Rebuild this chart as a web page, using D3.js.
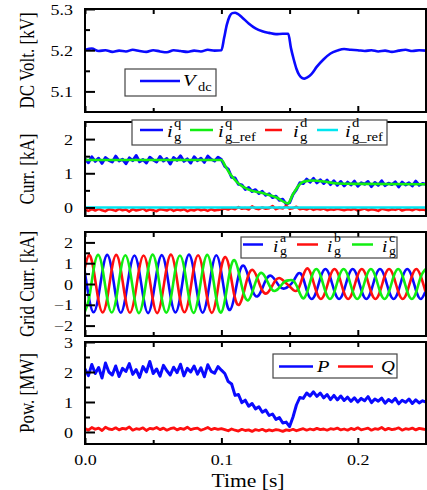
<!DOCTYPE html>
<html>
<head>
<meta charset="utf-8">
<script src="https://cdn.jsdelivr.net/npm/d3@7"></script>
<style>
body { margin: 0; background: #fff; }
svg { display: block; }
text { font-family: "Liberation Serif", "Times New Roman", serif; fill: #000; }
</style>
</head>
<body>
<script>
// ---- data ----
// DC voltage [kV]
var vdcT = [0,0.005,0.01,0.015,0.02,0.025,0.03,0.035,0.04,0.045,0.05,0.055,0.06,0.065,0.07,0.075,0.08,0.085,0.09,0.095,0.1,
  0.102,0.104,0.106,0.108,0.11,0.112,0.115,0.12,0.125,0.13,0.135,0.14,0.145,0.149,0.151,0.153,0.155,0.157,0.159,0.161,0.163,0.166,0.17,0.175,0.18,0.185,0.19,0.195,
  0.2,0.205,0.21,0.215,0.22,0.225,0.23,0.235,0.24,0.245,0.25];
var vdc = [5.201,5.204,5.198,5.2,5.196,5.199,5.197,5.201,5.198,5.196,5.2,5.197,5.195,5.2,5.198,5.196,5.199,5.197,5.201,5.199,5.2,
  5.23,5.262,5.282,5.29,5.291,5.288,5.28,5.265,5.253,5.246,5.242,5.239,5.24,5.24,5.205,5.178,5.155,5.14,5.133,5.131,5.134,5.142,5.16,5.178,5.192,5.199,5.203,5.201,
  5.2,5.198,5.2,5.197,5.199,5.196,5.199,5.201,5.198,5.2,5.199];

// sampled time base for the measured (noisy) signals, 2.5 ms step
var tMeas = d3.range(101).map(function(i) { return i * 0.0025; });

// d-q currents [kA]
var iqMeas = [1.42,1.31,1.48,1.35,1.44,1.29,1.46,1.38,1.33,1.5,1.36,1.41,1.28,1.45,1.37,1.52,1.34,1.4,1.3,1.47,1.39,1.33,1.49,1.36,1.43,1.27,1.46,1.38,1.51,1.35,1.42,1.3,1.48,1.37,1.44,1.32,1.5,1.41,1.36,1.47,1.4,
  1.2,1.12,0.88,0.86,0.68,0.66,0.53,0.58,0.47,0.52,0.41,0.47,0.36,0.4,0.29,0.33,0.21,0.24,0.1,0.14,0.38,0.52,0.72,0.7,0.83,0.74,0.85,0.72,0.81,0.7,0.8,0.67,0.78,0.65,0.76,
  0.63,0.74,0.66,0.77,0.62,0.72,0.68,0.76,0.61,0.73,0.65,0.78,0.64,0.71,0.67,0.75,0.6,0.74,0.66,0.72,0.63,0.77,0.65,0.7,0.68];
var iqRefT = [0,0.1,0.103,0.106,0.109,0.112,0.116,0.12,0.13,0.14,0.149,0.152,0.155,0.158,0.162,0.167,0.175,0.185,0.2,0.25];
var iqRef = [1.39,1.39,1.2,1.0,0.85,0.72,0.6,0.52,0.42,0.3,0.12,0.35,0.55,0.7,0.77,0.79,0.76,0.7,0.69,0.68];
var idMeas = [-0.06,-0.1,-0.05,-0.09,-0.04,-0.08,-0.11,-0.05,-0.07,-0.1,-0.04,-0.08,-0.06,-0.12,-0.05,-0.09,-0.07,-0.03,-0.1,-0.06,-0.08,-0.11,-0.05,-0.07,-0.09,-0.04,-0.1,-0.06,-0.08,-0.05,-0.11,-0.07,-0.09,-0.04,-0.08,-0.06,-0.1,-0.05,-0.09,-0.07,-0.06,
  -0.03,-0.06,-0.02,-0.05,0.01,-0.04,-0.02,-0.06,0.03,-0.03,-0.05,0.0,-0.04,-0.02,0.04,-0.05,-0.01,-0.03,0.05,-0.04,-0.02,0.02,-0.05,-0.03,-0.06,-0.02,-0.07,-0.04,-0.06,-0.03,-0.08,-0.05,-0.07,-0.04,-0.06,
  -0.08,-0.05,-0.07,-0.04,-0.09,-0.06,-0.03,-0.08,-0.05,-0.07,-0.1,-0.04,-0.06,-0.08,-0.05,-0.07,-0.03,-0.09,-0.06,-0.05,-0.08,-0.04,-0.07,-0.06,-0.08];
var idRefT = [0, 0.25];
var idRef = [0, 0];

// grid phase currents [kA], sampled every 60 deg of the 50 Hz wave
var tPhase = d3.range(76).map(function(k) { return -0.0004 + k / 300; });
var iga = [0.7,-0.68,-1.36,-0.7,0.68,1.4, 0.69,-0.7,-1.38,-0.67,0.7,1.37, 0.68,-0.69,-1.4,-0.68,0.69,1.39, 0.7,-0.68,-1.37,-0.7,0.7,1.41, 0.69,-0.7,-1.38,-0.69,0.68,1.38,
  0.69,-0.65,-1.25,-0.58,0.5,0.88, 0.39,-0.34,-0.6,-0.27,0.23,0.4, 0.17,-0.14,-0.22,-0.09,0.15,0.5, 0.34,-0.38,-0.72,-0.36,0.36,0.72,
  0.36,-0.36,-0.72,-0.36,0.36,0.72, 0.36,-0.36,-0.72,-0.36,0.36,0.72, 0.36,-0.36,-0.72,-0.36,0.36,0.72, 0.36,-0.36,-0.72,-0.36];
var igb = [0.69,1.39,0.7,-0.68,-1.37,-0.7, 0.7,1.4,0.68,-0.7,-1.38,-0.69, 0.68,1.37,0.69,-0.69,-1.4,-0.68, 0.69,1.41,0.7,-0.7,-1.36,-0.69, 0.7,1.38,0.69,-0.68,-1.39,-0.7,
  0.69,1.3,0.63,-0.58,-1.0,-0.44, 0.39,0.68,0.3,-0.27,-0.46,-0.2, 0.17,0.28,0.11,-0.09,-0.3,-0.25, 0.34,0.75,0.36,-0.36,-0.72,-0.36,
  0.36,0.72,0.36,-0.36,-0.72,-0.36, 0.36,0.72,0.36,-0.36,-0.72,-0.36, 0.36,0.72,0.36,-0.36,-0.72,-0.36, 0.36,0.72,0.36,-0.36];
var igc = [-1.38,-0.7,0.68,1.4,0.7,-0.69, -1.37,-0.69,0.7,1.38,0.68,-0.7, -1.4,-0.68,0.69,1.41,0.69,-0.7, -1.38,-0.7,0.7,1.37,0.7,-0.68, -1.39,-0.69,0.68,1.4,0.69,-0.7,
  -1.38,-0.65,0.63,1.15,0.5,-0.44, -0.78,-0.34,0.3,0.53,0.23,-0.2, -0.33,-0.14,0.11,0.18,0.15,-0.25, -0.68,-0.38,0.36,0.72,0.36,-0.36,
  -0.72,-0.36,0.36,0.72,0.36,-0.36, -0.72,-0.36,0.36,0.72,0.36,-0.36, -0.72,-0.36,0.36,0.72,0.36,-0.36, -0.72,-0.36,0.36,0.72];

// power [MW]
var pMeas = [2.1,1.88,2.25,1.95,2.15,1.8,2.3,2.0,1.9,2.2,1.85,2.12,2.02,2.28,1.92,2.08,1.82,2.18,2.0,2.35,1.95,2.1,1.86,2.22,2.04,1.9,2.16,1.98,2.26,1.87,2.12,2.0,2.2,1.93,2.14,1.84,2.24,2.02,1.96,2.18,2.06,
  1.95,1.68,1.6,1.22,1.25,0.98,1.06,0.86,0.95,0.77,0.84,0.66,0.73,0.55,0.6,0.42,0.48,0.3,0.33,0.18,0.5,0.9,1.15,1.12,1.3,1.2,1.34,1.19,1.3,1.14,1.25,1.08,1.22,1.07,1.2,
  1.05,1.16,1.02,1.14,1.0,1.12,1.04,1.18,0.98,1.1,1.03,1.13,0.96,1.08,1.0,1.12,0.94,1.06,0.99,1.1,0.95,1.07,0.97,1.04,1.0];
var qMeas = [0.12,0.06,0.15,0.09,0.13,0.05,0.16,0.1,0.08,0.14,0.07,0.12,0.1,0.17,0.06,0.11,0.09,0.14,0.05,0.12,0.1,0.15,0.08,0.13,0.06,0.11,0.14,0.07,0.12,0.09,0.16,0.08,0.11,0.13,0.06,0.1,0.15,0.08,0.12,0.09,0.11,
  0.08,0.04,0.1,0.06,0.03,0.09,0.05,0.07,0.02,0.08,0.05,0.09,0.03,0.07,0.04,0.08,0.06,0.02,0.07,0.05,0.09,0.04,0.08,0.11,0.06,0.1,0.07,0.12,0.08,0.1,0.06,0.11,0.09,0.13,0.07,
  0.1,0.06,0.12,0.08,0.14,0.07,0.1,0.13,0.06,0.11,0.09,0.15,0.07,0.12,0.08,0.1,0.14,0.06,0.11,0.09,0.13,0.07,0.12,0.1,0.08];

var xTicks = [0, 0.1, 0.2];
var xMinor = [0.05, 0.15, 0.25];

var BLUE = "#0a0aff", RED = "#ff1010", GREEN = "#12ee12", CYAN = "#00e6f0";
var SX = 1.2; // the original lettering is a bit wide

var svg = d3.select("body").append("svg")
  .attr("width", 427)
  .attr("height", 490);

var x = d3.scaleLinear().domain([0, 0.25]).range([85, 426]);

function txt(g, s, px, py, size, italic, anchor) {
  return g.append("text")
    .attr("transform", "translate(" + px + "," + py + ") scale(" + SX + ",1)")
    .style("font-size", size + "px")
    .style("font-style", italic ? "italic" : "normal")
    .attr("text-anchor", anchor || "start")
    .text(s);
}

function panel(id, top, bottom, domain, major, minor, title, showX) {
  var y = d3.scaleLinear().domain(domain).range([bottom, top]);
  var g = svg.append("g");

  svg.append("clipPath").attr("id", id)
    .append("rect")
    .attr("x", 85).attr("y", top)
    .attr("width", 341).attr("height", bottom - top);

  var plot = g.append("g").attr("clip-path", "url(#" + id + ")");

  // y axis, inward ticks
  var ya = g.append("g").attr("transform", "translate(85,0)")
    .call(d3.axisLeft(y).tickValues(major).tickSize(-10).tickPadding(0).tickFormat(d3.format("")));
  ya.selectAll("text").attr("x", null).attr("dy", null)
    .attr("transform", "translate(-12,5) scale(" + SX + ",1)")
    .style("font-size", "15px");
  g.append("g").attr("transform", "translate(85,0)")
    .call(d3.axisLeft(y).tickValues(minor).tickSize(-5).tickFormat(""));

  // x ticks top and bottom
  g.append("g").attr("transform", "translate(0," + bottom + ")")
    .call(d3.axisBottom(x).tickValues(xTicks).tickSize(-6).tickFormat(showX ? d3.format(".1f") : ""))
    .selectAll("text").attr("y", null).attr("dy", null)
    .attr("transform", "translate(0,21) scale(" + SX + ",1)")
    .style("font-size", "15px");
  g.append("g").attr("transform", "translate(0," + bottom + ")")
    .call(d3.axisBottom(x).tickValues(xMinor).tickSize(-4).tickFormat(""));
  g.append("g").attr("transform", "translate(0," + top + ")")
    .call(d3.axisTop(x).tickValues(xTicks.concat(xMinor)).tickSize(-5).tickFormat(""));

  g.selectAll(".domain").remove();
  g.selectAll(".tick line").attr("stroke", "#000").attr("stroke-width", 2);

  g.append("rect")
    .attr("x", 85).attr("y", top)
    .attr("width", 341).attr("height", bottom - top)
    .attr("fill", "none").attr("stroke", "#000").attr("stroke-width", 2);

  // axis title
  g.append("text")
    .attr("transform", "translate(27," + ((top + bottom) / 2) + ") scale(" + SX + ",1) rotate(-90)")
    .attr("text-anchor", "middle")
    .attr("dy", "0.35em")
    .style("font-size", "17px")
    .text(title);

  return { y: y, plot: plot, g: g };
}

function draw(p, ts, vs, color, width, curve) {
  var line = d3.line()
    .x(function(d) { return x(d[0]); })
    .y(function(d) { return p.y(d[1]); })
    .curve(curve || d3.curveLinear);
  p.plot.append("path")
    .datum(d3.zip(ts, vs))
    .attr("d", line)
    .attr("fill", "none")
    .attr("stroke", color)
    .attr("stroke-width", width)
    .attr("stroke-linejoin", "round");
}

function box(g, x0, y0, w, h) {
  g.append("rect").attr("x", x0).attr("y", y0).attr("width", w).attr("height", h)
    .attr("fill", "#fff").attr("stroke", "#444").attr("stroke-width", 1.2);
}
function key(g, x0, x1, yy, color) {
  g.append("line").attr("x1", x0).attr("x2", x1).attr("y1", yy).attr("y2", yy)
    .attr("stroke", color).attr("stroke-width", 2.5);
}
function iLabel(g, px, base, sup, sub, size, supBase, subBase) {
  txt(g, "i", px, base, size, true);
  txt(g, sup, px + 7, supBase, size * 0.72, false);
  txt(g, sub, px + 7, subBase, size * 0.72, false);
}

// ---- panel 1: DC voltage ----
var p1 = panel("c1", 9, 112, [5.05, 5.3], [5.1, 5.2, 5.3], [5.15, 5.25], "DC Volt. [kV]", false);
draw(p1, vdcT, vdc, BLUE, 2.6, d3.curveMonotoneX);
box(p1.g, 125, 69, 91, 27);
key(p1.g, 140, 180, 81, BLUE);
txt(p1.g, "V", 183, 86, 17, true);
txt(p1.g, "dc", 198, 91, 12, false);

// ---- panel 2: d-q currents ----
var p2 = panel("c2", 122, 216, [-0.25, 2.5], [0, 1, 2], [0.5, 1.5], "Curr. [kA]", false);
draw(p2, tMeas, iqMeas, BLUE, 3);
draw(p2, iqRefT, iqRef, GREEN, 2.6, d3.curveMonotoneX);
draw(p2, tMeas, idMeas, RED, 2.6);
draw(p2, idRefT, idRef, CYAN, 2.6);
box(p2.g, 132, 120, 255, 25);
key(p2.g, 140, 163, 130, BLUE);
iLabel(p2.g, 167, 137, "q", "g", 17, 127, 141);
key(p2.g, 190, 213, 130, GREEN);
iLabel(p2.g, 218, 137, "q", "g_ref", 17, 127, 141);
key(p2.g, 265, 282, 130, RED);
iLabel(p2.g, 293, 137, "d", "g", 17, 127, 141);
key(p2.g, 317, 338, 130, CYAN);
iLabel(p2.g, 345, 137, "d", "g_ref", 17, 127, 141);

// ---- panel 3: grid phase currents ----
var p3 = panel("c3", 232, 336, [-2.5, 2.5], [-2, -1, 0, 1, 2], [-1.5, -0.5, 0.5, 1.5], "Grid Curr. [kA]", false);
draw(p3, tPhase, iga, BLUE, 2.6, d3.curveNatural);
draw(p3, tPhase, igb, RED, 2.6, d3.curveNatural);
draw(p3, tPhase, igc, GREEN, 2.6, d3.curveNatural);
box(p3.g, 241, 237, 156, 21);
key(p3.g, 243, 263, 244.5, BLUE);
iLabel(p3.g, 273, 251.5, "a", "g", 16, 242, 254.5);
key(p3.g, 297, 318, 244.5, RED);
iLabel(p3.g, 327, 251.5, "b", "g", 16, 242, 254.5);
key(p3.g, 352, 373, 244.5, GREEN);
iLabel(p3.g, 382, 251.5, "c", "g", 16, 242, 254.5);

// ---- panel 4: power ----
var p4 = panel("c4", 342, 444, [-0.4, 3], [0, 1, 2, 3], [0.5, 1.5, 2.5], "Pow. [MW]", true);
draw(p4, tMeas, pMeas, BLUE, 3);
draw(p4, tMeas, qMeas, RED, 2.8);
box(p4.g, 273, 354, 124, 24);
key(p4.g, 279, 313, 366.5, BLUE);
txt(p4.g, "P", 317, 372, 17, true);
key(p4.g, 338, 373, 366.5, RED);
txt(p4.g, "Q", 381, 372, 16, true);

txt(svg, "Time [s]", 248, 487, 18, false, "middle");
</script>
</body>
</html>
